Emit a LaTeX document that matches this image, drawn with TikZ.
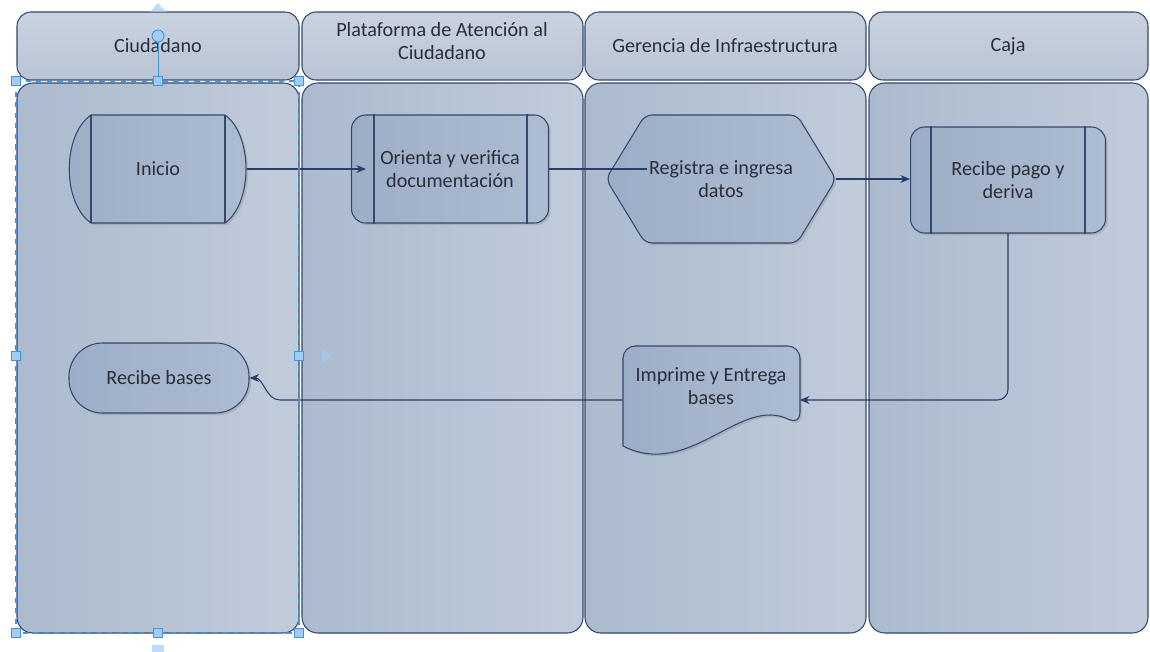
\documentclass[tikz,border=0pt]{standalone}
\usepackage{fontspec}
\setmainfont{Carlito}
\usepackage{tikz}
\usetikzlibrary{shadows,arrows.meta}

\definecolor{lanel}{RGB}{171,186,206}
\definecolor{laner}{RGB}{193,204,219}
\definecolor{hdrt}{RGB}{202,210,223}
\definecolor{hdrb}{RGB}{184,196,213}
\definecolor{boxl}{RGB}{156,174,199}
\definecolor{boxr}{RGB}{172,188,209}
\definecolor{edge}{RGB}{52,72,108}
\definecolor{wire}{RGB}{40,62,104}
\definecolor{txt}{RGB}{42,46,56}
\definecolor{selc}{RGB}{70,145,215}
\definecolor{self}{RGB}{160,205,245}

\begin{document}
\begin{tikzpicture}[x=0.02cm, y=-0.02cm, every node/.style={text=txt, font=\fontsize{11.5}{13}\selectfont, align=center},
  lane/.style={draw=edge, line width=0.6pt, left color=lanel, right color=laner, rounded corners=9pt},
  hdr/.style={draw=edge, line width=0.6pt, top color=hdrt, bottom color=hdrb, rounded corners=8pt},
  box/.style={draw=edge, line width=0.6pt, left color=boxl, right color=boxr, drop shadow={shadow xshift=1.2pt, shadow yshift=-1.2pt, opacity=0.3}},
  bar/.style={draw=edge, line width=0.6pt},
  flow/.style={draw=wire, line width=0.6pt, -{Stealth[length=5.5pt, width=4.5pt]}},
  sel/.style={draw=selc, line width=0.6pt, dashed},
  handle/.style={draw=selc, fill=self, line width=0.5pt}]
\useasboundingbox[fill=white] (0,0) rectangle (1150,652);

\foreach \xa/\xb in {17/299, 302/583, 585/866, 869/1148} {
  \path[hdr] (\xa,12) rectangle (\xb,80);
  \path[lane] (\xa,83) rectangle (\xb,633);
}
\node (ciudadano) at (158,46) {Ciudadano};
\node (plataforma) at (442,41) {Plataforma de Atención al\\Ciudadano};
\node (gerencia) at (725,46) {Gerencia de Infraestructura};
\node (caja) at (1008,46) {Caja};

\path[box] (91,115) -- (225,115) .. controls (253,135) and (253,203) .. (225,223) -- (91,223) .. controls (62,203) and (62,135) .. (91,115) -- cycle;
\draw[bar] (91,115) -- (91,223) (225,115) -- (225,223);
\node[minimum width=3.54cm, minimum height=2.16cm] (inicio) at (158,169) {Inicio};

\node[box, rounded corners=8pt, minimum width=3.94cm, minimum height=2.16cm] (orienta) at (450,169) {Orienta y verifica\\documentación};
\draw[bar] ([xshift=0.46cm]orienta.north west) -- ([xshift=0.46cm]orienta.south west);
\draw[bar] ([xshift=-0.44cm]orienta.north east) -- ([xshift=-0.44cm]orienta.south east);

\path[box, rounded corners=4pt] (606,179) -- (645,115) -- (797,115) -- (836,179) -- (797,243) -- (645,243) -- cycle;
\node[minimum width=4.6cm, minimum height=2.56cm] (registra) at (721,179) {Registra e ingresa\\datos};

\node[box, rounded corners=8pt, minimum width=3.9cm, minimum height=2.12cm] (pago) at (1008,180) {Recibe pago y\\deriva};
\draw[bar] ([xshift=0.42cm]pago.north west) -- ([xshift=0.42cm]pago.south west);
\draw[bar] ([xshift=-0.42cm]pago.north east) -- ([xshift=-0.42cm]pago.south east);

\path[box, rounded corners=7pt] (623,446) -- (623,346) -- (800,346) -- (800,425) [sharp corners] .. controls (740,395) and (690,480) .. (623,446) -- cycle;
\node[minimum width=3.54cm, minimum height=1.6cm] (imprime) at (711,386) {Imprime y Entrega\\bases};

\node[box, rounded corners=19pt, minimum width=3.6cm, minimum height=1.4cm] (bases) at (159,378) {Recibe bases};

\coordinate (curva) at (280,400);
\draw[flow] (inicio.east) -- ([xshift=0.3cm]orienta.west);
\draw[bar, draw=wire] (orienta.east) -- ([xshift=0.82cm]registra.west |- orienta.east);
\draw[flow] (registra.east) -- (pago.west |- registra.east);
\draw[flow, rounded corners=6pt] (pago.south) |- ([yshift=-0.28cm]imprime.east);
\draw[flow] ([yshift=-0.28cm]imprime.west) -- (curva) .. controls +(-14,0) and +(14,0) .. (bases.east);

\draw[sel] (16,81) rectangle (299,633);
\draw[selc, line width=0.4pt] (158,42) -- (158,77);
\filldraw[handle] (158,36) circle (6);
\foreach \hx/\hy in {16/81, 158/81, 299/81, 16/356, 299/356, 16/633, 158/633, 299/633}
  \filldraw[handle] (\hx-4.5,\hy-4.5) rectangle (\hx+4.5,\hy+4.5);
\fill[self, opacity=0.7] (150,12) -- (158,3) -- (166,12) -- cycle;
\fill[self, opacity=0.7] (322,348) -- (331,356) -- (322,364) -- cycle;
\fill[self, opacity=0.7] (152,645) rectangle (164,652);
\end{tikzpicture}
\end{document}
